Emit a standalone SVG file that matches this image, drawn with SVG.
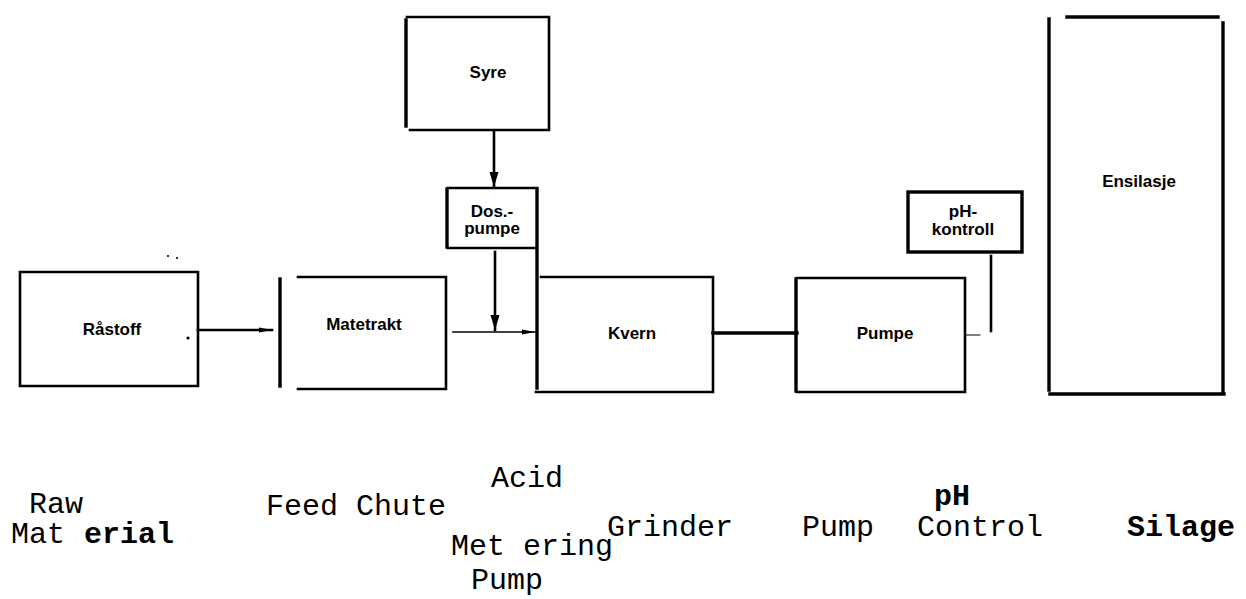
<svg xmlns="http://www.w3.org/2000/svg" width="1246" height="599" viewBox="0 0 1246 599">
<style>
.ln{stroke:#000;stroke-width:2.6;fill:none;stroke-linecap:square}
.thk{stroke-width:3.4}
.thin{stroke-width:1.6}
.hair{stroke-width:1}
.lbl{font-family:"Liberation Sans",Arial,sans-serif;font-weight:bold;font-size:17px;text-anchor:middle;fill:#000}
.en{font-family:"Liberation Mono","Courier New",monospace;font-size:30px;fill:#000}
.b{font-weight:bold}
</style>
<defs>
<marker id="ah" markerUnits="userSpaceOnUse" markerWidth="14" markerHeight="8" refX="13" refY="4" orient="auto">
<path d="M0,1.5 L13,4 L0,6.5 z" fill="#000"/>
</marker>
<marker id="av" markerUnits="userSpaceOnUse" markerWidth="16" markerHeight="10" refX="15" refY="5" orient="auto">
<path d="M0,0.5 L15,5 L0,9.5 z" fill="#000"/>
</marker>
</defs>

<g id="connectors">
<line class="ln" x1="198" y1="330" x2="272" y2="330" marker-end="url(#ah)"/>
<line class="ln" x1="494" y1="131" x2="494" y2="187" marker-end="url(#av)"/>
<line class="ln" x1="495" y1="252" x2="495" y2="330" marker-end="url(#av)"/>
<line class="ln thin" x1="453" y1="332" x2="535" y2="332" marker-end="url(#ah)"/>
<line class="ln thk" x1="713" y1="333" x2="797" y2="333"/>
<line class="ln hair" x1="965" y1="335" x2="980" y2="335"/>
<line class="ln" x1="991" y1="256" x2="991" y2="331"/>
</g>

<g id="rastoff">
<path class="ln" d="M20,272 H198 V386 H20 Z"/>
<text class="lbl" x="112" y="335">Råstoff</text>
<circle cx="188" cy="338" r="1.6" fill="#000"/>
<circle cx="168" cy="256" r="1.1" fill="#000"/>
<circle cx="177" cy="258" r="1.1" fill="#000"/>
<text class="en" x="29" y="513">Raw</text>
<text class="en" x="11" y="543">Mat<tspan class="b" x="84">erial</tspan></text>
</g>

<g id="matetrakt">
<line class="ln thk" x1="280" y1="279" x2="280" y2="386"/>
<path class="ln" d="M298,277 H446 V389 H298"/>
<text class="lbl" x="364" y="330">Matetrakt</text>
<text class="en" x="266" y="515">Feed Chute</text>
</g>

<g id="syre">
<line class="ln thk" x1="406" y1="20" x2="406" y2="126"/>
<path class="ln" d="M407,17 H549 V130 H410"/>
<text class="lbl" x="488" y="78">Syre</text>
<text class="en" x="491" y="487">Acid</text>
</g>

<g id="dospumpe">
<path class="ln" d="M537,188 H448"/>
<line class="ln thk" x1="447" y1="189" x2="447" y2="247"/>
<path class="ln" d="M448,248 H536"/>
<text class="lbl" x="492" y="217">Dos.-</text>
<text class="lbl" x="492" y="234">pumpe</text>
<text class="en" x="451" y="555">Met ering</text>
<text class="en" x="471" y="589">Pump</text>
</g>

<g id="kvern">
<line class="ln thk" x1="537" y1="189" x2="537" y2="388"/>
<path class="ln" d="M541,277 H713 V392 H536"/>
<text class="lbl" x="632" y="339">Kvern</text>
<text class="en" x="607" y="536">Grinder</text>
</g>

<g id="pumpe">
<line class="ln thk" x1="796" y1="279" x2="796" y2="391"/>
<path class="ln" d="M797,278 H965 V392 H797"/>
<text class="lbl" x="885" y="339">Pumpe</text>
<text class="en" x="802" y="536">Pump</text>
</g>

<g id="phkontroll">
<rect class="ln thk" x="908" y="192" width="114" height="60"/>
<text class="lbl" x="963" y="217">pH-</text>
<text class="lbl" x="963" y="235">kontroll</text>
<text class="en b" x="934" y="505">pH</text>
<text class="en" x="917" y="536">Control</text>
</g>

<g id="ensilasje">
<line class="ln thk" x1="1049" y1="19" x2="1049" y2="390"/>
<line class="ln thk" x1="1067" y1="17" x2="1218" y2="17"/>
<line class="ln thk" x1="1223" y1="23" x2="1223" y2="393"/>
<line class="ln thk" x1="1050" y1="394" x2="1224" y2="394"/>
<text class="lbl" x="1139" y="187">Ensilasje</text>
<text class="en b" x="1127" y="536">Silage</text>
</g>
</svg>
